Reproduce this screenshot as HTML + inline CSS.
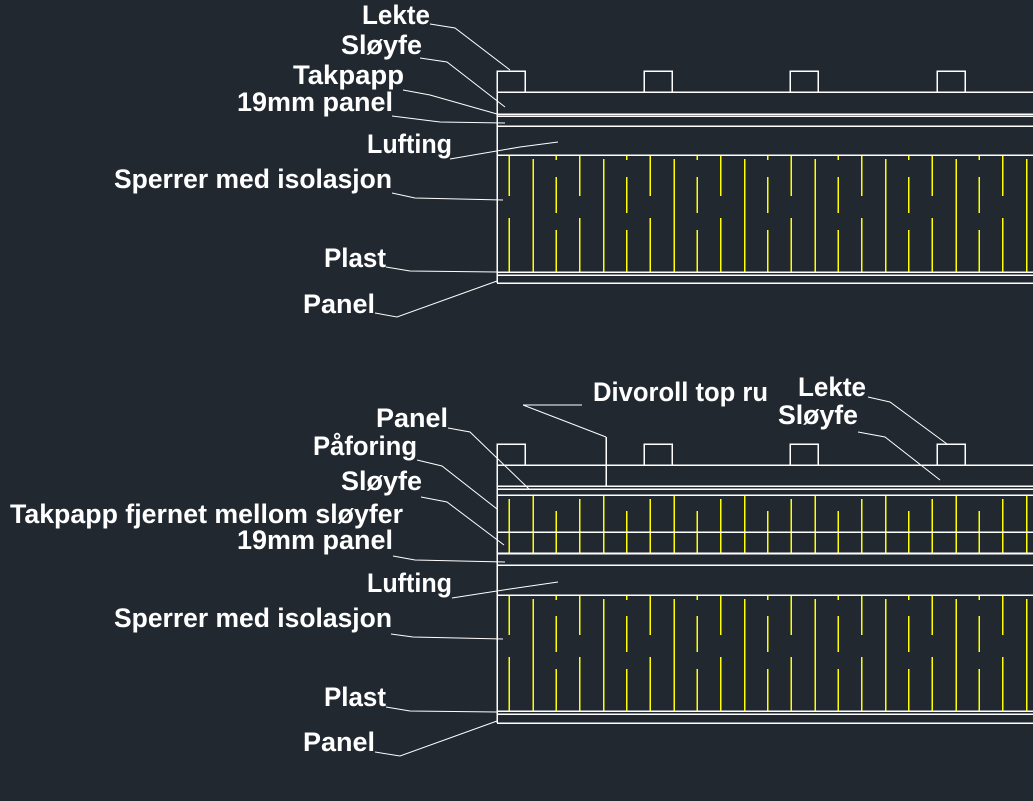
<!DOCTYPE html>
<html><head><meta charset="utf-8"><style>
html,body{margin:0;padding:0;background:#212830;}
svg{display:block}
text{font-family:"Liberation Sans",Arial,sans-serif;font-weight:bold;font-size:27px;fill:#fff;}
.c{shape-rendering:crispEdges}
</style></head><body>
<svg width="1033" height="801" viewBox="0 0 1033 801" xmlns="http://www.w3.org/2000/svg">
<defs>
<pattern id="sp1" patternUnits="userSpaceOnUse" x="497" y="155" width="70.5" height="117">
<g stroke="#ffff00" stroke-width="1.5" class="c">
<line x1="12" y1="0" x2="12" y2="41"/><line x1="12" y1="63" x2="12" y2="117"/>
<line x1="36" y1="4" x2="36" y2="117"/>
<line x1="59" y1="0" x2="59" y2="5"/><line x1="59" y1="22" x2="59" y2="58"/><line x1="59" y1="75" x2="59" y2="117"/>
</g></pattern>
<pattern id="sp2" patternUnits="userSpaceOnUse" x="497" y="595" width="70.5" height="116">
<g stroke="#ffff00" stroke-width="1.5" class="c">
<line x1="12" y1="0" x2="12" y2="40"/><line x1="12" y1="62" x2="12" y2="116"/>
<line x1="36" y1="4" x2="36" y2="116"/>
<line x1="59" y1="0" x2="59" y2="5"/><line x1="59" y1="21" x2="59" y2="57"/><line x1="59" y1="74" x2="59" y2="116"/>
</g></pattern>
<pattern id="pf" patternUnits="userSpaceOnUse" x="497" y="495" width="70.5" height="58">
<g stroke="#ffff00" stroke-width="1.5" class="c">
<line x1="12" y1="4" x2="12" y2="58"/>
<line x1="36" y1="0" x2="36" y2="58"/>
<line x1="59" y1="16" x2="59" y2="58"/>
</g></pattern>
</defs>

<rect x="497" y="155" width="536" height="117" fill="url(#sp1)"/>
<g stroke="#fff" stroke-width="1.5" fill="none" class="c">
<rect x="497" y="71" width="28" height="21"/>
<rect x="644" y="71" width="28" height="21"/>
<rect x="790" y="71" width="28" height="21"/>
<rect x="937" y="71" width="28" height="21"/>
<line x1="497" y1="71" x2="497" y2="283"/>
<line x1="497" y1="92" x2="1033" y2="92"/>
<line x1="497" y1="114" x2="1033" y2="114"/>
<line x1="497" y1="116" x2="1033" y2="116"/>
<line x1="497" y1="126" x2="1033" y2="126"/>
<line x1="497" y1="155" x2="1033" y2="155"/>
<line x1="497" y1="272" x2="1033" y2="272"/>
<line x1="497" y1="275" x2="1033" y2="275"/>
<line x1="497" y1="283" x2="1033" y2="283"/>
</g>
<g stroke="#fff" stroke-width="1" fill="none">
<polyline points="430,24 455,28 510,70"/>
<polyline points="420,58 447,62 505,107"/>
<polyline points="403,90 430,95 497,114"/>
<polyline points="392,116 440,122 505,123"/>
<polyline points="450,159 520,147 558,142"/>
<polyline points="392,193 415,198 503,200"/>
<polyline points="386,267 410,271 497,272"/>
<polyline points="375,313 397,317 497,281"/>
</g>
<text x="362" y="24" textLength="68" lengthAdjust="spacingAndGlyphs">Lekte</text>
<text x="341" y="54" textLength="81" lengthAdjust="spacingAndGlyphs">Sløyfe</text>
<text x="293" y="84" textLength="111" lengthAdjust="spacingAndGlyphs">Takpapp</text>
<text x="237" y="111" textLength="156" lengthAdjust="spacingAndGlyphs">19mm panel</text>
<text x="367" y="153" textLength="85" lengthAdjust="spacingAndGlyphs">Lufting</text>
<text x="114" y="188" textLength="278" lengthAdjust="spacingAndGlyphs">Sperrer med isolasjon</text>
<text x="324" y="267" textLength="62" lengthAdjust="spacingAndGlyphs">Plast</text>
<text x="303" y="313" textLength="72" lengthAdjust="spacingAndGlyphs">Panel</text>

<rect x="497" y="495" width="536" height="58" fill="url(#pf)"/>
<rect x="497" y="595" width="536" height="116" fill="url(#sp2)"/>
<g stroke="#fff" stroke-width="1.5" fill="none" class="c">
<rect x="497" y="444" width="28" height="21"/>
<rect x="644" y="444" width="28" height="21"/>
<rect x="790" y="444" width="28" height="21"/>
<rect x="937" y="444" width="28" height="21"/>
<line x1="497" y1="444" x2="497" y2="723"/>
<line x1="497" y1="465" x2="1033" y2="465"/>
<line x1="497" y1="486" x2="1033" y2="486"/>
<line x1="497" y1="489" x2="1033" y2="489"/>
<line x1="497" y1="495" x2="1033" y2="495"/>
<line x1="497" y1="532" x2="1033" y2="532"/>
<line x1="497" y1="553.5" x2="1033" y2="553.5" stroke-width="2"/>
<line x1="497" y1="565" x2="1033" y2="565"/>
<line x1="497" y1="595" x2="1033" y2="595"/>
<line x1="497" y1="711" x2="1033" y2="711"/>
<line x1="497" y1="714" x2="1033" y2="714"/>
<line x1="497" y1="723" x2="1033" y2="723"/>
<line x1="606" y1="437" x2="606" y2="486"/>
</g>
<g stroke="#fff" stroke-width="1" fill="none">
<line x1="523" y1="405" x2="582" y2="405"/>
<line x1="523" y1="405" x2="606" y2="437"/>
<polyline points="868,397 890,402 947,444"/>
<polyline points="858,432 885,437 940,480"/>
<polyline points="448,428 470,432 529,489"/>
<polyline points="417,460 442,466 497,509"/>
<polyline points="421,497 447,502 504,545"/>
<polyline points="393,556 415,560 505,562"/>
<polyline points="452,598 510,589 558,582"/>
<polyline points="391,634 413,637 503,639"/>
<polyline points="386,707 410,711 497,712"/>
<polyline points="375,752 400,756 497,721"/>
</g>
<text x="593" y="401" textLength="175" lengthAdjust="spacingAndGlyphs">Divoroll top ru</text>
<text x="798" y="396" textLength="68" lengthAdjust="spacingAndGlyphs">Lekte</text>
<text x="778" y="424" textLength="80" lengthAdjust="spacingAndGlyphs">Sløyfe</text>
<text x="376" y="427" textLength="72" lengthAdjust="spacingAndGlyphs">Panel</text>
<text x="313" y="455" textLength="104" lengthAdjust="spacingAndGlyphs">Påforing</text>
<text x="341" y="490" textLength="81" lengthAdjust="spacingAndGlyphs">Sløyfe</text>
<text x="10" y="523" textLength="393" lengthAdjust="spacingAndGlyphs">Takpapp fjernet mellom sløyfer</text>
<text x="237" y="549" textLength="156" lengthAdjust="spacingAndGlyphs">19mm panel</text>
<text x="367" y="592" textLength="85" lengthAdjust="spacingAndGlyphs">Lufting</text>
<text x="114" y="627" textLength="278" lengthAdjust="spacingAndGlyphs">Sperrer med isolasjon</text>
<text x="324" y="706" textLength="62" lengthAdjust="spacingAndGlyphs">Plast</text>
<text x="303" y="751" textLength="72" lengthAdjust="spacingAndGlyphs">Panel</text>
</svg>
</body></html>
